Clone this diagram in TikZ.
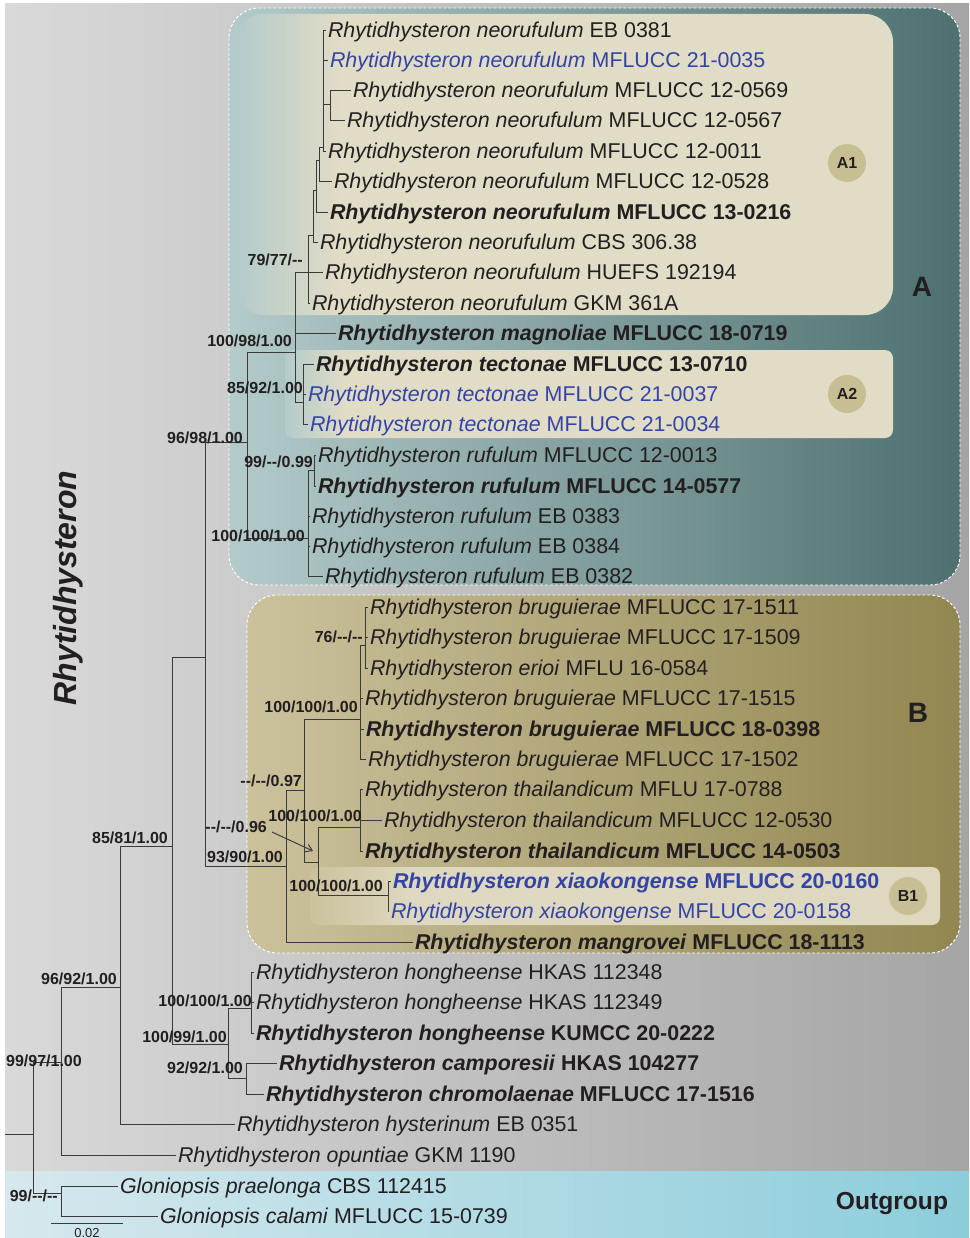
\documentclass[tikz,border=0pt]{standalone}
\usepackage{fontspec}
\setmainfont{Liberation Sans}
\usetikzlibrary{arrows.meta}
\definecolor{grayL}{HTML}{D9D9D9}
\definecolor{grayR}{HTML}{A5A5A5}
\definecolor{ogL}{HTML}{D6E8ED}
\definecolor{ogR}{HTML}{8CCDDB}
\definecolor{tealL}{HTML}{B3CBCA}
\definecolor{tealR}{HTML}{4E7070}
\definecolor{beigeA}{HTML}{E1DCC6}
\definecolor{olivL}{HTML}{CBC19C}
\definecolor{olivR}{HTML}{928750}
\definecolor{beigeB}{HTML}{DDD8BF}
\definecolor{badgec}{HTML}{C8BE94}
\definecolor{txt}{HTML}{231F20}
\definecolor{bluet}{HTML}{3444A6}
\definecolor{brc}{HTML}{3A3A3A}
\pgfdeclarehorizontalshading{aonefade}{100bp}{color(0bp)=(tealL);color(25bp)=(tealL);color(33bp)=(beigeA);color(100bp)=(beigeA)}
\pgfdeclarehorizontalshading{atwofade}{100bp}{color(0bp)=(tealL);color(25bp)=(tealL);color(30bp)=(beigeA);color(100bp)=(beigeA)}
\pgfdeclarehorizontalshading{bonefade}{100bp}{color(0bp)=(olivL);color(25bp)=(olivL);color(33bp)=(beigeB);color(100bp)=(beigeB)}
\newcommand{\tsz}{\fontsize{21.4}{24}\selectfont}
\newcommand{\dd}{-{}-}
\begin{document}
\begin{tikzpicture}[x=1pt,y=-1pt,
  tip/.style={anchor=west, inner sep=0pt, outer xsep=2.5pt, text height=15.3pt, text depth=0pt, font=\tsz, text=txt},
  tipb/.style={tip, font=\tsz\bfseries},
  bl/.style={text=bluet},
  sup/.style={anchor=east, inner sep=0pt, text height=11.5pt, text depth=0pt, font=\fontsize{16}{18}\selectfont\bfseries, text=txt},
  br/.style={draw=brc, line width=0.95pt},
  clade/.style={draw=white, line width=0.9pt, dash pattern=on 3pt off 2pt},
  badge/.style={circle, fill=badgec, minimum size=38pt, inner sep=0pt, font=\fontsize{16}{18}\selectfont\bfseries, text=txt},
  big/.style={inner sep=0pt, font=\fontsize{28}{30}\selectfont\bfseries, text=txt}]
\useasboundingbox (0,0) rectangle (969,1238);
% backgrounds
\fill[white] (0,0) rectangle (969,1238);
\shade[left color=grayL, right color=grayR] (5,4) rectangle (969,1171);
\shade[left color=ogL, right color=ogR] (5,1171) rectangle (969,1238);
% clade A
\shade[left color=tealL, right color=tealR, rounded corners=30] (229,8) rectangle (960,585);
\shade[shading=aonefade, rounded corners=28] (236,14) rectangle (893,315);
\shade[shading=atwofade, rounded corners=8] (285,350) rectangle (893,438);
\draw[clade, rounded corners=30] (229,8) rectangle (960,585);
% clade B
\shade[left color=olivL, right color=olivR, rounded corners=30] (247,595) rectangle (960,953);
\shade[shading=bonefade, rounded corners=8] (310,867) rectangle (940,925);
\draw[clade, rounded corners=30] (247,595) rectangle (960,953);
% badges and big labels
\node[badge] (bA1) at (847,163) {A1};
\node[badge] (bA2) at (847,394) {A2};
\node[badge] (bB1) at (908,896) {B1};
\node[big] (lA) at (922,287) {A};
\node[big] (lB) at (918,713) {B};
\node[inner sep=0pt, font=\fontsize{24.6}{26}\selectfont\bfseries, text=txt] (lout) at (892,1204) {Outgroup};
\node[inner sep=0pt, rotate=90, font=\fontsize{32}{34}\selectfont\bfseries\itshape, text=txt] (lrh) at (68,588) {Rhytidhysteron};
% taxa
\node[tip] (t01) at (325.5,30) {\textit{Rhytidhysteron neorufulum} EB 0381};
\node[tip,bl] (t02) at (327.5,60) {\textit{Rhytidhysteron neorufulum} MFLUCC 21-0035};
\node[tip] (t03) at (350.5,90) {\textit{Rhytidhysteron neorufulum} MFLUCC 12-0569};
\node[tip] (t04) at (344.5,120) {\textit{Rhytidhysteron neorufulum} MFLUCC 12-0567};
\node[tip] (t05) at (325.5,151) {\textit{Rhytidhysteron neorufulum} MFLUCC 12-0011};
\node[tip] (t06) at (331.5,181) {\textit{Rhytidhysteron neorufulum} MFLUCC 12-0528};
\node[tipb] (t07) at (327.5,212) {\textit{Rhytidhysteron neorufulum} MFLUCC 13-0216};
\node[tip] (t08) at (317.5,242) {\textit{Rhytidhysteron neorufulum} CBS 306.38};
\node[tip] (t09) at (322.5,272) {\textit{Rhytidhysteron neorufulum} HUEFS 192194};
\node[tip] (t10) at (309.5,303) {\textit{Rhytidhysteron neorufulum} GKM 361A};
\node[tipb] (t11) at (335.5,333) {\textit{Rhytidhysteron magnoliae} MFLUCC 18-0719};
\node[tipb] (t12) at (313.5,364) {\textit{Rhytidhysteron tectonae} MFLUCC 13-0710};
\node[tip,bl] (t13) at (305.5,394) {\textit{Rhytidhysteron tectonae} MFLUCC 21-0037};
\node[tip,bl] (t14) at (307.5,424) {\textit{Rhytidhysteron tectonae} MFLUCC 21-0034};
\node[tip] (t15) at (315.5,455) {\textit{Rhytidhysteron rufulum} MFLUCC 12-0013};
\node[tipb] (t16) at (315.5,486) {\textit{Rhytidhysteron rufulum} MFLUCC 14-0577};
\node[tip] (t17) at (309.5,516) {\textit{Rhytidhysteron rufulum} EB 0383};
\node[tip] (t18) at (309.5,546) {\textit{Rhytidhysteron rufulum} EB 0384};
\node[tip] (t19) at (322.5,576) {\textit{Rhytidhysteron rufulum} EB 0382};
\node[tip] (t20) at (367.5,607) {\textit{Rhytidhysteron bruguierae} MFLUCC 17-1511};
\node[tip] (t21) at (367.5,637) {\textit{Rhytidhysteron bruguierae} MFLUCC 17-1509};
\node[tip] (t22) at (367.5,668) {\textit{Rhytidhysteron erioi} MFLU 16-0584};
\node[tip] (t23) at (362.5,698) {\textit{Rhytidhysteron bruguierae} MFLUCC 17-1515};
\node[tipb] (t24) at (363.5,729) {\textit{Rhytidhysteron bruguierae} MFLUCC 18-0398};
\node[tip] (t25) at (365.5,759) {\textit{Rhytidhysteron bruguierae} MFLUCC 17-1502};
\node[tip] (t26) at (362.5,789) {\textit{Rhytidhysteron thailandicum} MFLU 17-0788};
\node[tip] (t27) at (381.5,820) {\textit{Rhytidhysteron thailandicum} MFLUCC 12-0530};
\node[tipb] (t28) at (362.5,851) {\textit{Rhytidhysteron thailandicum} MFLUCC 14-0503};
\node[tipb,bl] (t29) at (390.5,881) {\textit{Rhytidhysteron xiaokongense} MFLUCC 20-0160};
\node[tip,bl] (t30) at (388.5,911) {\textit{Rhytidhysteron xiaokongense} MFLUCC 20-0158};
\node[tipb] (t31) at (412.5,942) {\textit{Rhytidhysteron mangrovei} MFLUCC 18-1113};
\node[tip] (t32) at (253.5,972) {\textit{Rhytidhysteron hongheense} HKAS 112348};
\node[tip] (t33) at (253.5,1002) {\textit{Rhytidhysteron hongheense} HKAS 112349};
\node[tipb] (t34) at (253.5,1033) {\textit{Rhytidhysteron hongheense} KUMCC 20-0222};
\node[tipb] (t35) at (276.5,1063) {\textit{Rhytidhysteron camporesii} HKAS 104277};
\node[tipb] (t36) at (263.5,1094) {\textit{Rhytidhysteron chromolaenae} MFLUCC 17-1516};
\node[tip] (t37) at (234.5,1124) {\textit{Rhytidhysteron hysterinum} EB 0351};
\node[tip] (t38) at (175.5,1155) {\textit{Rhytidhysteron opuntiae} GKM 1190};
\node[tip] (t39) at (117.5,1186) {\textit{Gloniopsis praelonga} CBS 112415};
\node[tip] (t40) at (157.5,1216) {\textit{Gloniopsis calami} MFLUCC 15-0739};
% internal nodes
\coordinate (S34) at (330,104);
\coordinate (Na) at (323,147);
\coordinate (Nb) at (319,160);
\coordinate (Nc) at (316,190);
\coordinate (Nd) at (313,235);
\coordinate (Ne) at (308,272);
\coordinate (Nf) at (295,352);
\coordinate (Tn) at (303,402);
\coordinate (R1) at (314,470);
\coordinate (R2) at (308,538);
\coordinate (Aa) at (247,442);
\coordinate (AB) at (205,657);
\coordinate (Bb) at (286,866);
\coordinate (Bp) at (304,790);
\coordinate (Br) at (360,719);
\coordinate (S76) at (365,645);
\coordinate (TX) at (318,862);
\coordinate (Th) at (360,827);
\coordinate (Xi) at (388,895);
\coordinate (Top) at (172,846);
\coordinate (H) at (228,1044);
\coordinate (Hg) at (251,1008);
\coordinate (Cc) at (246,1078);
\coordinate (N120) at (120,987);
\coordinate (N61) at (61,1062);
\coordinate (Root) at (33,1134);
\coordinate (Gl) at (61,1193);
\coordinate (R0) at (5,1134);
% branches
\foreach \p/\c in {Na/t01,Na/t02,Na/S34,Na/t05,S34/t03,S34/t04,Nb/Na,Nb/t06,Nc/Nb,Nc/t07,Nd/Nc,Nd/t08,
  Ne/Nd,Ne/t09,Ne/t10,Nf/Ne,Nf/t11,Nf/Tn,Tn/t12,Tn/t13,Tn/t14,R1/t15,R1/t16,R2/R1,R2/t17,R2/t18,R2/t19,
  Aa/Nf,Aa/R2,AB/Aa,AB/Bb,Bb/Bp,Bb/t31,Bp/Br,Bp/TX,Br/S76,Br/t23,Br/t24,Br/t25,S76/t20,S76/t21,S76/t22,
  TX/Th,TX/Xi,Th/t26,Th/t27,Th/t28,Xi/t29,Xi/t30,Top/AB,Top/H,H/Hg,H/Cc,Hg/t32,Hg/t33,Hg/t34,Cc/t35,Cc/t36,
  N120/Top,N120/t37,N61/N120,N61/t38,Root/N61,Root/Gl,Gl/t39,Gl/t40}
  \draw[br] (\p) |- (\c);
\draw[br] (R0) -- (Root);
% support values
\node[sup] (s01) at (303,260) {79/77/\dd};
\node[sup] (s02) at (292,341) {100/98/1.00};
\node[sup] (s03) at (303,388) {85/92/1.00};
\node[sup] (s04) at (243,438) {96/98/1.00};
\node[sup] (s05) at (313,462) {99/\dd/0.99};
\node[sup] (s06) at (305,536) {100/100/1.00};
\node[sup] (s07) at (363,637) {76/\dd/\dd};
\node[sup] (s08) at (358,707) {100/100/1.00};
\node[sup] (s09) at (302,781) {\dd/\dd/0.97};
\node[sup] (s10) at (362,816) {100/100/1.00};
\node[sup] (s11) at (267,827) {\dd/\dd/0.96};
\node[sup] (s12) at (168,838) {85/81/1.00};
\node[sup] (s13) at (283,857) {93/90/1.00};
\node[sup] (s14) at (383,886) {100/100/1.00};
\node[sup] (s15) at (117,979) {96/92/1.00};
\node[sup] (s16) at (252,1001) {100/100/1.00};
\node[sup] (s17) at (227,1037) {100/99/1.00};
\node[sup] (s18) at (82,1061) {99/97/1.00};
\node[sup] (s19) at (243,1068) {92/92/1.00};
\node[sup] (s20) at (58,1196) {99/\dd/\dd};
% arrow for --/--/0.96
\coordinate (arrtip) at (313,851);
\draw[br, -{Straight Barb[length=6pt,width=8pt]}] ([shift={(5,5)}]s11.east) -- (arrtip);
% scale bar
\coordinate (sb1) at (51,1223);
\coordinate (sb2) at (123,1223);
\draw[br] (sb1) -- (sb2);
\node[inner sep=0pt, font=\fontsize{13}{14}\selectfont, text=txt] (sbl) at (87,1233) {0.02};
\end{tikzpicture}
\end{document}
